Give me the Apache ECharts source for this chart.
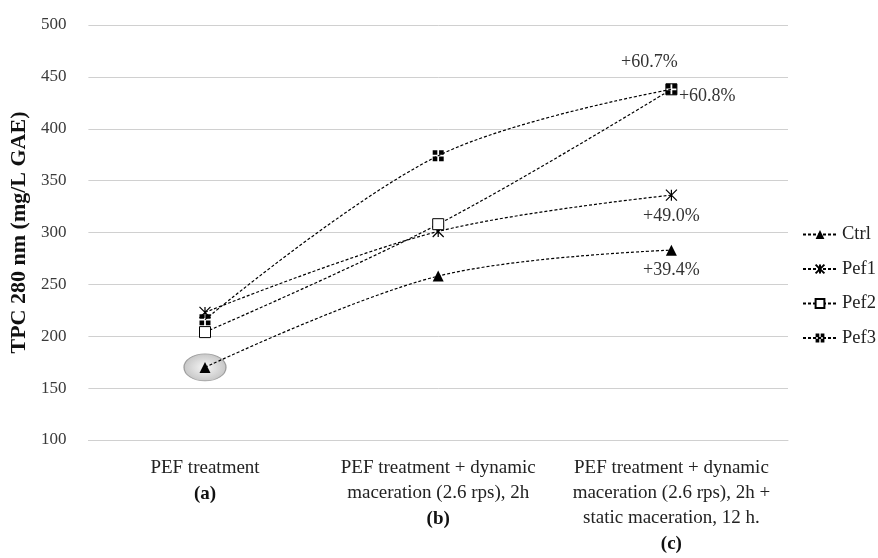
<!DOCTYPE html>
<html><head><meta charset="utf-8">
<script src="https://cdn.jsdelivr.net/npm/echarts@6/dist/echarts.min.js"></script>
<style>html,body{margin:0;padding:0;background:#fff}#c{width:878px;height:558px}</style>
</head><body><div id="c"></div>
<script>
const categories = ['PEF treatment', 'PEF treatment + dynamic\nmaceration (2.6 rps), 2h', 'PEF treatment + dynamic\nmaceration (2.6 rps), 2h +\nstatic maceration, 12 h.'];
const catLetters = ['(a)', '(b)', '(c)'];
const seriesNames = ['Ctrl', 'Pef1', 'Pef2', 'Pef3'];
const ctrl = [170, 258, 283];
const pef1 = [223, 301, 336];
const pef2 = [204, 308, 438];
const pef3 = [216, 374, 438];
const ctrlLabels = ['', '', '+39.4%'];
const pef1Labels = ['', '', '+49.0%'];
const pef2Labels = ['', '', '+60.7%'];
const pef3Labels = ['', '', '+60.8%'];
const yTicks = {min: 100, max: 500, step: 50};

const FONT = 'Liberation Serif';
const dash = [3, 2];
const SMOOTH = 0.35;
function mk(vals, labels, cfg) {
  return vals.map((v, i) => {
    const d = {value: v};
    if (labels[i]) d.label = Object.assign({show: true, formatter: labels[i], fontFamily: FONT, fontSize: 18, color: '#333'}, cfg);
    return d;
  });
}
const chart = echarts.init(document.getElementById('c'), null, {renderer: 'canvas'});
chart.setOption({
  animation: false,
  backgroundColor: '#fff',
  grid: {left: 88, right: 90, top: 25, bottom: 118, containLabel: false},
  xAxis: {
    type: 'category', data: categories, boundaryGap: true,
    axisLine: {show: true, lineStyle: {color: '#d0d0d0', width: 1}},
    axisTick: {show: false},
    axisLabel: {
      interval: 0, margin: 16, fontFamily: FONT, fontSize: 19, color: '#222', lineHeight: 25,
      formatter: (v, i) => v + '\n{b|' + catLetters[i] + '}',
      rich: {b: {fontFamily: FONT, fontSize: 19, fontWeight: 'bold', color: '#111', lineHeight: 26}}
    }
  },
  yAxis: {
    type: 'value', min: yTicks.min, max: yTicks.max, interval: yTicks.step,
    name: 'TPC 280 nm (mg/L GAE)', nameLocation: 'middle', nameGap: 51,
    nameTextStyle: {fontFamily: FONT, fontSize: 22, fontWeight: 'bold', color: '#111'},
    axisLine: {show: false}, axisTick: {show: false},
    axisLabel: {fontFamily: FONT, fontSize: 17, color: '#3a3a3a', margin: 22},
    splitLine: {lineStyle: {color: '#d0d0d0', width: 1}}
  },
  legend: {
    data: seriesNames, orient: 'vertical', left: 797, top: 220, itemGap: 15.5,
    itemWidth: 34, itemHeight: 11,
    textStyle: {fontFamily: FONT, fontSize: 18.5, color: '#222'}
  },
  series: [
    {type: 'scatter', name: 'highlight', data: [[0, ctrl[0]]], z: 1, silent: true,
     symbol: 'circle', symbolSize: [42, 27],
     itemStyle: {color: {type: 'radial', x: 0.5, y: 0.5, r: 0.5, colorStops: [{offset: 0, color: '#f4f4f4'}, {offset: 1, color: '#b8b8b8'}]}, borderColor: '#8a8a8a', borderWidth: 1}},
    {type: 'line', name: 'Ctrl', data: mk(ctrl, ctrlLabels, {position: 'bottom', distance: 6}), smooth: SMOOTH, z: 3,
     symbol: 'triangle', symbolSize: 11,
     lineStyle: {color: '#000', width: 1.2, type: dash}, itemStyle: {color: '#000'}},
    {type: 'line', name: 'Pef1', data: mk(pef1, pef1Labels, {position: 'bottom', distance: 6}), smooth: SMOOTH, z: 3,
     symbol: 'path://M0,0L10,10M10,0L0,10M5,0L5,10', symbolSize: 11,
     lineStyle: {color: '#000', width: 1.2, type: dash}, itemStyle: {color: 'rgba(0,0,0,0)', borderColor: '#000', borderWidth: 1.2}},
    {type: 'line', name: 'Pef2', data: mk(pef2, pef2Labels, {position: 'top', distance: 8, offset: [-22, -4]}), smooth: SMOOTH, z: 3,
     symbol: 'rect', symbolSize: 11,
     lineStyle: {color: '#000', width: 1.2, type: dash}, itemStyle: {color: '#fff', borderColor: '#000', borderWidth: 1}},
    {type: 'line', name: 'Pef3', data: mk(pef3, pef3Labels, {position: 'right', distance: 2, offset: [0, 7]}), smooth: SMOOTH, z: 4,
     symbol: 'path://M0,0h4.2v4.2h-4.2zM5.8,0h4.2v4.2h-4.2zM0,5.8h4.2v4.2h-4.2zM5.8,5.8h4.2v4.2h-4.2z', symbolSize: 11,
     lineStyle: {color: '#000', width: 1.2, type: dash}, itemStyle: {color: '#000'}}
  ]
});
</script></body></html>
